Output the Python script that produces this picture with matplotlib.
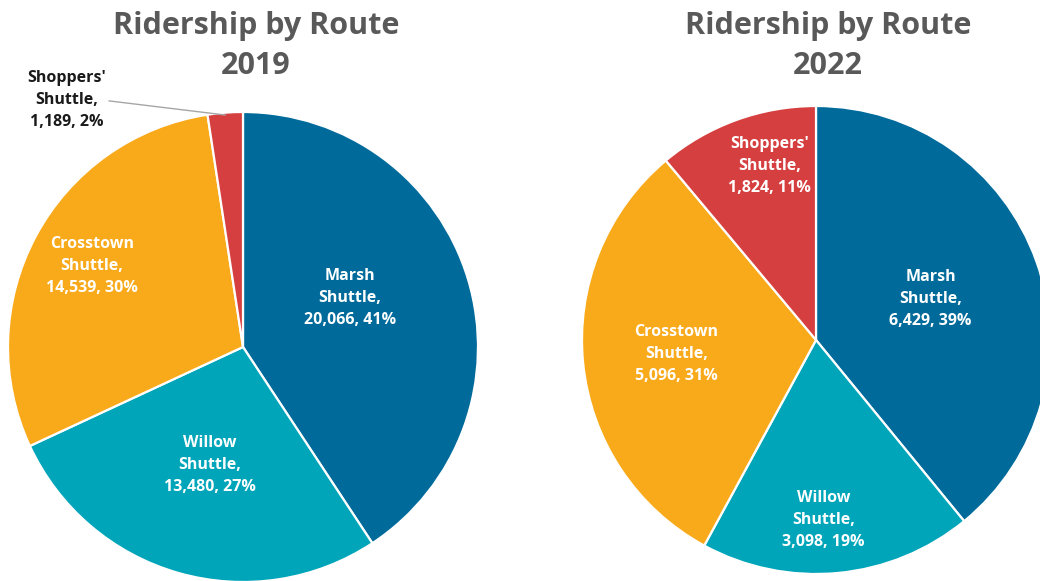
import matplotlib
matplotlib.use("Agg")
import matplotlib.pyplot as plt
import numpy as np

plt.rcParams['font.family'] = ['Open Sans', 'DejaVu Sans']

routes = ["Marsh\nShuttle", "Willow\nShuttle", "Crosstown\nShuttle", "Shoppers'\nShuttle"]
riders_2019 = [20066, 13480, 14539, 1189]
riders_2022 = [6429, 3098, 5096, 1824]
colors = ["#006a9a", "#00a5b9", "#f9aa1b", "#d63f3f"]

W, H = 1040, 581
fig = plt.figure(figsize=(W / 100, H / 100), dpi=100)

def make_pie(cx, cy, r, values, label_r, label_shift, outside=None):
    ax = fig.add_axes([(cx - r) / W, (H - cy - r) / H, 2 * r / W, 2 * r / H])
    wedges, _ = ax.pie(values, colors=colors, startangle=90, counterclock=False,
                       radius=1, wedgeprops=dict(edgecolor="white", linewidth=1.6))
    ax.set_xlim(-1, 1)
    ax.set_ylim(-1, 1)
    ax.set_aspect("equal")
    ax.axis("off")
    for w in wedges:
        w.set_clip_on(False)
    total = sum(values)
    for i, (w, v) in enumerate(zip(wedges, values)):
        mid = (w.theta1 + w.theta2) / 2
        pct = round(100 * v / total)
        txt = f"{routes[i]},\n{v:,}, {pct}%"
        if outside is not None and i == outside[0]:
            ang = np.deg2rad(mid)
            tx, ty = outside[1]
            ex, ey = np.cos(ang) * 0.99, np.sin(ang) * 0.99
            ax.annotate(txt, xy=(ex, ey), xytext=(tx, ty), ha="center", va="center",
                        fontsize=11.5, fontweight="bold", color="#1a1a1a", linespacing=1.5,
                        annotation_clip=False,
                        arrowprops=dict(arrowstyle="-", color="#a6a6a6", lw=1,
                                        shrinkA=0, shrinkB=0, relpos=(0.97, 0.5)))
            continue
        ang = np.deg2rad(mid - label_shift[i])
        lr = label_r[i]
        ax.text(lr * np.cos(ang), lr * np.sin(ang), txt, ha="center", va="center",
                fontsize=11.5, fontweight="bold", color="white", linespacing=1.5)
    return ax

make_pie(243, 347, 235, riders_2019, [0.50, 0.52, 0.73, 0.7], [-8, 0, 0, 0],
         outside=(3, (-0.75, 1.05)))
make_pie(816, 340, 234, riders_2022, [0.52, 0.77, 0.60, 0.77], [0, 3, 0, 5])

for x, year in [(256, "2019"), (828, "2022")]:
    fig.text(x / W, 1 - 46 / H, f"Ridership by Route\n{year}", ha="center", va="center",
             fontsize=22, fontweight="bold", color="#595959", linespacing=1.4)

fig.savefig("out.png", dpi=100)
